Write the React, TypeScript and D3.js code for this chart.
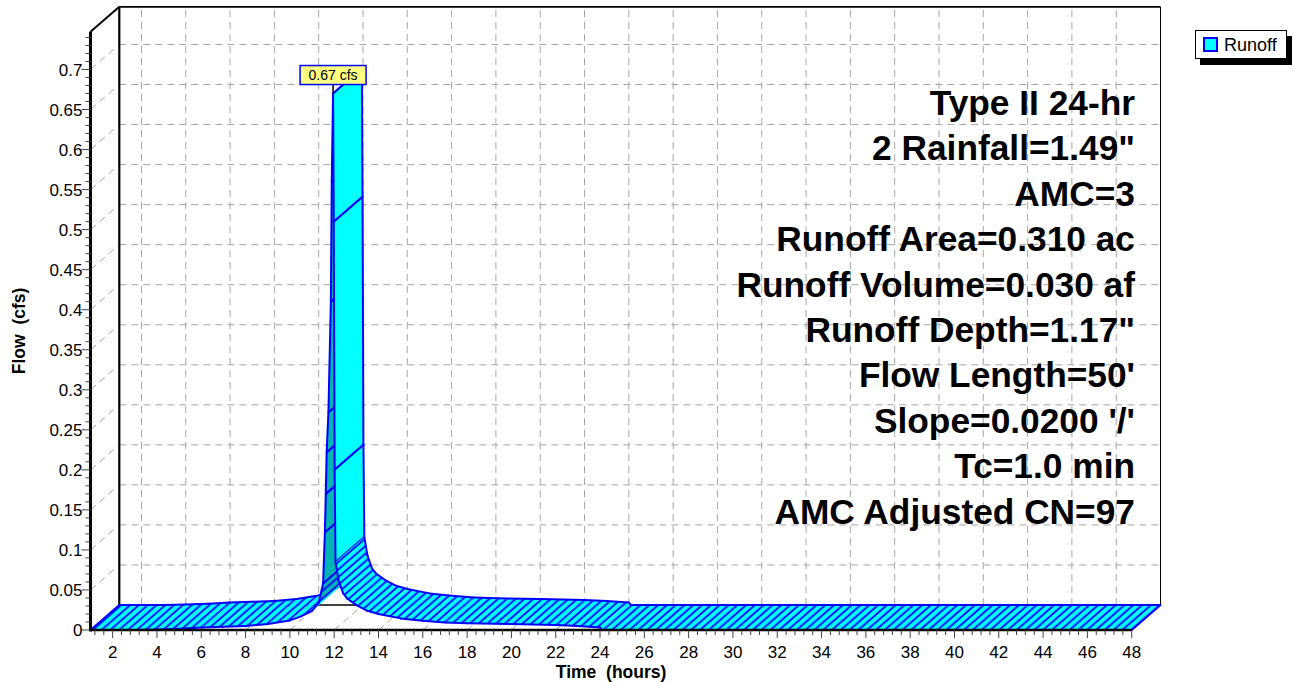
import React from 'react';
import * as d3 from 'd3';

// Runoff hydrograph (time in hours, flow in cfs)
const hours = [1, 2, 3, 4, 5, 6, 7, 8, 9, 10, 10.5, 11, 11.3, 11.5, 11.58, 11.62, 11.66, 11.74, 11.85, 11.89, 11.95, 11.98, 12.02, 12.06, 12.2, 12.4, 12.6, 13.0, 13.5, 14, 15, 16, 17, 18, 20, 22, 23, 24, 24.1, 48];
const flowCfs = [0, 0, 0, 0.0005, 0.0015, 0.003, 0.004, 0.005, 0.0075, 0.012, 0.017, 0.024, 0.034, 0.058, 0.122, 0.17, 0.222, 0.272, 0.41, 0.56, 0.67, 0.51, 0.2, 0.085, 0.062, 0.046, 0.039, 0.031, 0.024, 0.02, 0.0145, 0.0115, 0.0095, 0.0083, 0.0075, 0.0063, 0.005, 0.003, 0, 0];

const xTickLabels = [2, 4, 6, 8, 10, 12, 14, 16, 18, 20, 22, 24, 26, 28, 30, 32, 34, 36, 38, 40, 42, 44, 46, 48];
const yTickLabels = [0, 0.05, 0.1, 0.15, 0.2, 0.25, 0.3, 0.35, 0.4, 0.45, 0.5, 0.55, 0.6, 0.65, 0.7];

const infoLines = [
  'Type II 24-hr',
  '2 Rainfall=1.49"',
  'AMC=3',
  'Runoff Area=0.310 ac',
  'Runoff Volume=0.030 af',
  'Runoff Depth=1.17"',
  "Flow Length=50'",
  "Slope=0.0200 '/'",
  'Tc=1.0 min',
  'AMC Adjusted CN=97',
];

const seriesName = 'Runoff';
const units = 'cfs';

const W = 1294;
const H = 682;
const FONT = "'Liberation Sans', Arial, Helvetica, sans-serif";

const X_MIN = 1;
const X_MAX = 48;
const Y_TOP = 0.747;

// oblique depth offset of the back wall
const DX = 28.8;
const DY = -25;

const CYAN = '#00ffff';
const DARK = '#00b4b4';
const BLUE = '#0000ff';
const GRID = '#a6a6a6';

const x = d3.scaleLinear().domain([X_MIN, X_MAX]).range([90.5, 1131.7]);
const y = d3.scaleLinear().domain([0, 0.7]).range([630, 69.5]);

const HW = 8.8;
const HH = HW * (-DY / DX);

function hatchPattern(id: string, bg: string) {
  return (
    <pattern id={id} patternUnits="userSpaceOnUse" width={HW} height={HH}>
      <rect width={HW} height={HH} fill={bg} />
      <path
        d={`M${-HW},${2 * HH}L${2 * HW},${-HH}M${-HW},${HH}L${HW},${-HH}M0,${2 * HH}L${2 * HW},0`}
        stroke={BLUE}
        strokeWidth={1.8}
        fill="none"
      />
    </pattern>
  );
}

export default function App() {
  const fx0 = x(X_MIN);
  const fx1 = x(X_MAX);
  const fy0 = y(0);
  const fyTop = y(Y_TOP);

  const minorX = d3.range(Math.ceil(X_MIN / 0.4), Math.floor(X_MAX / 0.4 + 1e-6) + 1).map((k) => k * 0.4);
  const minorY = d3.range(0, Math.floor(Y_TOP / 0.01 + 1e-6) + 1).map((k) => k * 0.01);

  const pts = hours.map((h, i) => [x(h), y(flowCfs[i])] as [number, number]);

  const ribbon = [] as React.ReactNode[];
  for (let i = 0; i < pts.length - 1; i++) {
    const [x1, y1] = pts[i];
    const [x2, y2] = pts[i + 1];
    const ex = x2 - x1;
    const ey = y2 - y1;
    const cross = ex * DY - ey * DX;
    const slope = Math.abs(ey) / Math.max(ex, 1e-6);
    const steep = slope > 12;
    const under = cross > 0 && slope > 3;
    const bg = under ? DARK : CYAN;
    const fill = steep ? bg : under ? 'url(#hatchDark)' : 'url(#hatchLight)';
    const poly = `${x1},${y1} ${x2},${y2} ${x2 + DX},${y2 + DY} ${x1 + DX},${y1 + DY}`;
    const showStart = steep || i === 0;
    const showEnd = steep || i === pts.length - 2;
    ribbon.push(
      <g key={i}>
        <polygon points={poly} fill={fill} stroke={fill === bg ? bg : 'none'} strokeWidth={0.3} />
        <line x1={x1} y1={y1} x2={x2} y2={y2} stroke={BLUE} strokeWidth={2} strokeLinecap="round" />
        <line x1={x1 + DX} y1={y1 + DY} x2={x2 + DX} y2={y2 + DY} stroke={BLUE} strokeWidth={2} strokeLinecap="round" />
        {showStart && <line x1={x1} y1={y1} x2={x1 + DX} y2={y1 + DY} stroke={BLUE} strokeWidth={2} />}
        {showEnd && <line x1={x2} y1={y2} x2={x2 + DX} y2={y2 + DY} stroke={BLUE} strokeWidth={2} />}
      </g>
    );
  }

  // peak mark label
  const peakIdx = d3.maxIndex(flowCfs);
  const peakX = x(hours[peakIdx]);
  const peakY = y(flowCfs[peakIdx]);
  const peakText = `${flowCfs[peakIdx].toFixed(2)} ${units}`;
  const boxW = 66;
  const boxH = 19;
  const boxBottom = peakY - 9;

  const dash = '7,5';

  return (
    <div style={{ position: 'absolute', left: 0, top: 0 }}>
      <svg width={W} height={H} style={{ display: 'block', background: '#fff' }} fontFamily={FONT}>
        <defs>
          {hatchPattern('hatchLight', CYAN)}
          {hatchPattern('hatchDark', DARK)}
        </defs>

        {/* back wall grid */}
        {yTickLabels.filter((v) => v > 0).map((v) => (
          <line key={`hg${v}`} x1={fx0 + DX} x2={fx1 + DX} y1={y(v) + DY} y2={y(v) + DY} stroke={GRID} strokeWidth={1} strokeDasharray={dash} />
        ))}
        {xTickLabels.map((t) => (
          <line key={`vg${t}`} x1={x(t) + DX} x2={x(t) + DX} y1={fy0 + DY} y2={fyTop + DY} stroke={GRID} strokeWidth={1} strokeDasharray={dash} />
        ))}
        {/* left wall grid */}
        {yTickLabels.filter((v) => v > 0).map((v) => (
          <line key={`lg${v}`} x1={fx0} x2={fx0 + DX} y1={y(v)} y2={y(v) + DY} stroke={GRID} strokeWidth={1} strokeDasharray={dash} />
        ))}
        {/* floor grid */}
        {xTickLabels.map((t) => (
          <line key={`fg${t}`} x1={x(t)} x2={x(t) + DX} y1={fy0} y2={fy0 + DY} stroke={GRID} strokeWidth={1} strokeDasharray={dash} />
        ))}

        {/* back wall frame */}
        <line x1={fx0 + DX} x2={fx1 + DX} y1={fyTop + DY} y2={fyTop + DY} stroke="#000" strokeWidth={1.6} />
        <line x1={fx0 + DX} x2={fx1 + DX} y1={fy0 + DY} y2={fy0 + DY} stroke="#000" strokeWidth={1.6} />
        <line x1={fx0 + DX} x2={fx0 + DX} y1={fyTop + DY} y2={fy0 + DY} stroke="#000" strokeWidth={2.2} />
        <line x1={fx1 + DX} x2={fx1 + DX} y1={fyTop + DY} y2={fy0 + DY} stroke="#000" strokeWidth={1} />
        <line x1={fx0} x2={fx0 + DX} y1={fyTop} y2={fyTop + DY} stroke="#000" strokeWidth={2} />

        {/* series ribbon */}
        {ribbon}

        {/* front axes */}
        <line x1={fx0} x2={fx0} y1={fyTop} y2={fy0 + 1.5} stroke="#000" strokeWidth={3} />
        <line x1={fx0} x2={fx1} y1={fy0} y2={fy0} stroke="#000" strokeWidth={2.6} />
        {minorY.map((v, i) => (
          <line key={`ym${i}`} x1={fx0 - (i % 5 === 0 ? 9 : 5)} x2={fx0} y1={y(v)} y2={y(v)} stroke="#444" strokeWidth={1} />
        ))}
        {yTickLabels.map((v) => (
          <text key={`yl${v}`} x={fx0 - 8} y={y(v)} dy="0.36em" textAnchor="end" fontSize={17} fill="#000">
            {String(v)}
          </text>
        ))}
        {minorX.map((t, i) => {
          const major = Math.abs(t / 2 - Math.round(t / 2)) < 1e-6;
          return <line key={`xm${i}`} x1={x(t)} x2={x(t)} y1={fy0} y2={fy0 + (major ? 8 : 5)} stroke="#444" strokeWidth={1} />;
        })}
        {xTickLabels.map((t) => (
          <text key={`xl${t}`} x={x(t)} y={658} textAnchor="middle" fontSize={17} fill="#000">
            {String(t)}
          </text>
        ))}
        <text x={(fx0 + fx1) / 2} y={678} textAnchor="middle" fontSize={17.5} fontWeight="bold" xmlSpace="preserve">
          Time  (hours)
        </text>
        <text
          transform={`translate(25,${(fyTop + fy0) / 2}) rotate(-90)`}
          textAnchor="middle"
          fontSize={17.5}
          fontWeight="bold"
          xmlSpace="preserve"
        >
          Flow  (cfs)
        </text>

        {/* storm / subcatchment summary */}
        {infoLines.map((s, i) => (
          <text key={`info${i}`} x={1135} y={115 + i * 45.4} textAnchor="end" fontSize={35.3} fontWeight="bold" fill="#000">
            {s}
          </text>
        ))}

        {/* peak mark */}
        <line x1={peakX} x2={peakX} y1={boxBottom} y2={peakY} stroke="#000" strokeWidth={1.5} />
        <rect x={peakX - boxW / 2} y={boxBottom - boxH} width={boxW} height={boxH} fill="#ffff80" stroke={BLUE} strokeWidth={1.5} />
        <text x={peakX} y={boxBottom - boxH / 2} dy="0.36em" textAnchor="middle" fontSize={14} fill="#000">
          {peakText}
        </text>

        {/* legend */}
        <rect x={1200} y={36} width={92} height={29} fill="#000" />
        <rect x={1195.5} y={30.5} width={91} height={28} fill="#fff" stroke="#000" strokeWidth={1} />
        <rect x={1204} y={38} width={13} height={13} fill={CYAN} stroke={BLUE} strokeWidth={2} />
        <text x={1224} y={51} fontSize={18} fill="#000">
          {seriesName}
        </text>
      </svg>
    </div>
  );
}
